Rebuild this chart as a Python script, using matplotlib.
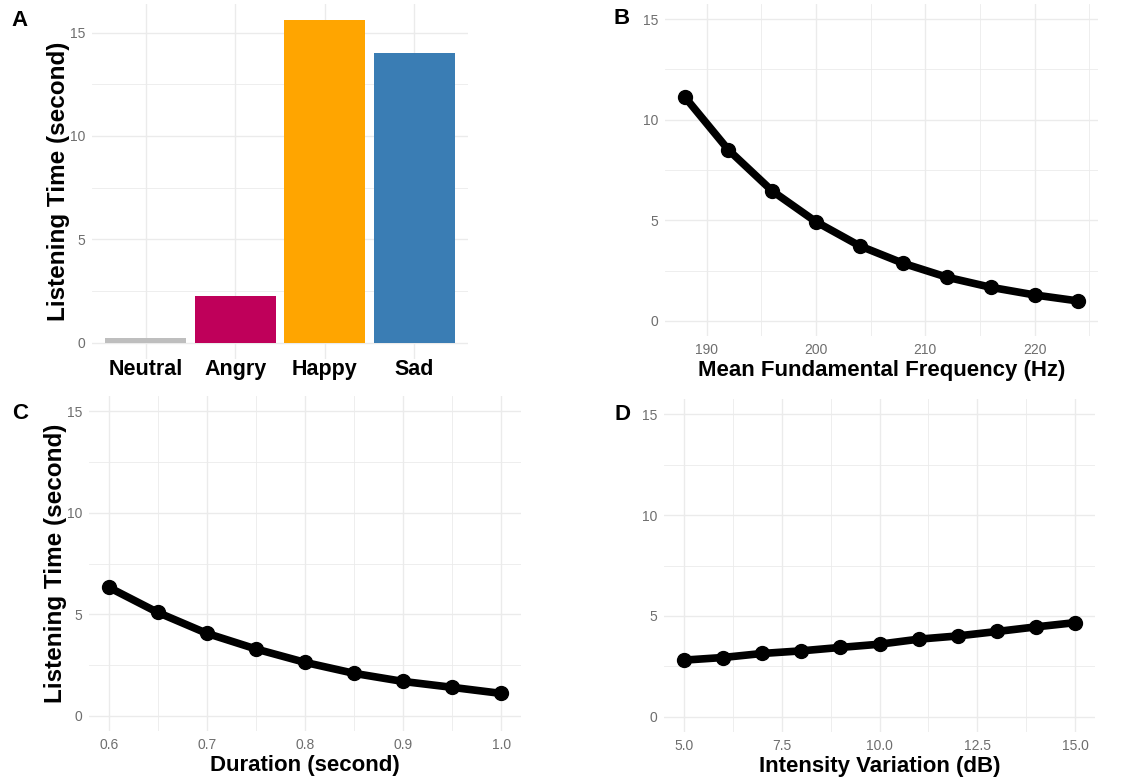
import matplotlib.pyplot as plt
import numpy as np
from matplotlib.ticker import MultipleLocator

plt.rcParams['font.family'] = ['Liberation Sans', 'DejaVu Sans']

# Panel A: mean listening time per emotion
EMOTIONS = ["Neutral", "Angry", "Happy", "Sad"]
EMOTION_TIME = [0.22, 2.28, 15.6, 14.0]
EMOTION_COLORS = ["#BEBEBE", "#BF005A", "#FFA500", "#3A7DB4"]

# Panel B: mean fundamental frequency (Hz)
F0_HZ = [188, 192, 196, 200, 204, 208, 212, 216, 220, 224]
F0_TIME = [11.14, 8.50, 6.46, 4.93, 3.73, 2.86, 2.17, 1.67, 1.29, 0.99]

# Panel C: duration (second)
DUR_S = [0.60, 0.65, 0.70, 0.75, 0.80, 0.85, 0.90, 0.95, 1.00]
DUR_TIME = [6.33, 5.09, 4.06, 3.29, 2.63, 2.09, 1.69, 1.40, 1.10]

# Panel D: intensity variation (dB)
INT_DB = [5, 6, 7, 8, 9, 10, 11, 12, 13, 14, 15]
INT_TIME = [2.81, 2.94, 3.14, 3.27, 3.44, 3.60, 3.85, 4.01, 4.23, 4.46, 4.67]

Y_LABEL = "Listening Time (second)"
W, H = 1148, 782
TICK_COLOR = "#6E6E6E"
GRID_COLOR = "#EBEBEB"
XLAB_SIZE = 16
YLAB_SIZE = 17.5


def px_axes(fig, left, top, right, bottom):
    return fig.add_axes([left / W, 1 - bottom / H, (right - left) / W, (bottom - top) / H])


def minimal_style(ax):
    for s in ax.spines.values():
        s.set_visible(False)
    ax.tick_params(which="both", length=0, labelsize=10, labelcolor=TICK_COLOR, pad=5)
    ax.grid(which="major", color=GRID_COLOR, linewidth=1.0)
    ax.grid(which="minor", color=GRID_COLOR, linewidth=0.6)
    ax.set_axisbelow(True)
    ax.yaxis.set_major_locator(MultipleLocator(5))
    ax.yaxis.set_minor_locator(MultipleLocator(2.5))


def line_panel(ax, x, y, xlim, major, minor, xlabel, ylabel=None):
    minimal_style(ax)
    ax.plot(x, y, "-o", color="black", linewidth=5.5, markersize=10, solid_capstyle="round")
    ax.set_xlim(*xlim)
    ax.set_ylim(-0.75, 15.75)
    ax.xaxis.set_major_locator(MultipleLocator(major))
    ax.xaxis.set_minor_locator(MultipleLocator(minor))
    ax.set_xlabel(xlabel, fontsize=XLAB_SIZE, fontweight="bold", labelpad=2.5)
    if ylabel:
        ax.set_ylabel(ylabel, fontsize=YLAB_SIZE, fontweight="bold", labelpad=0)


fig = plt.figure(figsize=(W / 100, H / 100), dpi=100)

# A
axA = px_axes(fig, 92, 4, 468, 359)
minimal_style(axA)
xpos = np.arange(1, len(EMOTIONS) + 1)
axA.bar(xpos, EMOTION_TIME, width=0.9, color=EMOTION_COLORS)
axA.set_xlim(0.4, 4.6)
axA.set_ylim(-0.78, 16.38)
axA.set_xticks(xpos)
axA.set_xticklabels(EMOTIONS)
axA.xaxis.set_minor_locator(plt.NullLocator())
axA.tick_params(axis="x", labelsize=15.5, labelcolor="black", pad=0)
for lab in axA.get_xticklabels():
    lab.set_fontweight("bold")
axA.set_ylabel(Y_LABEL, fontsize=YLAB_SIZE, fontweight="bold", labelpad=0)

# B
axB = px_axes(fig, 665, 4, 1098, 336)
line_panel(axB, F0_HZ, F0_TIME, (186.2, 225.8), 10, 5, "Mean Fundamental Frequency (Hz)")

# C
axC = px_axes(fig, 89, 396, 521, 731)
line_panel(axC, DUR_S, DUR_TIME, (0.58, 1.02), 0.1, 0.05, "Duration (second)", Y_LABEL)
axC.xaxis.set_major_formatter(plt.FormatStrFormatter("%.1f"))

# D
axD = px_axes(fig, 664, 399, 1095, 732)
line_panel(axD, INT_DB, INT_TIME, (4.5, 15.5), 2.5, 1.25, "Intensity Variation (dB)")
axD.xaxis.set_major_formatter(plt.FormatStrFormatter("%.1f"))

# panel letters
for letter, (x, y) in zip("ABCD", [(19, 20), (622, 19), (20, 413), (622, 414)]):
    fig.text(x / W, 1 - y / H, letter, fontsize=16, fontweight="bold",
             ha="center", va="center")

fig.savefig("out.png", dpi=100)
